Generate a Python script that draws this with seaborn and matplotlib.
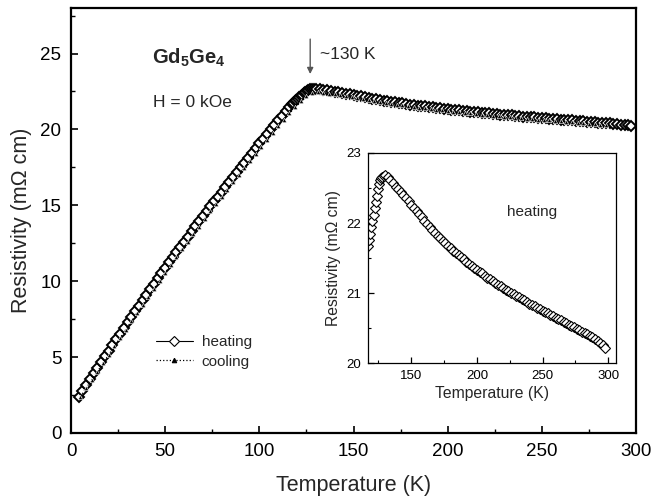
import numpy as np
import pandas as pd
import matplotlib
matplotlib.use("Agg")
import matplotlib.pyplot as plt
from matplotlib.ticker import MultipleLocator, FixedLocator
import seaborn as sns

# ---------------- data ----------------
heat_T = [4, 6, 8, 10, 12, 14, 16, 18, 20, 22, 24, 26, 28, 30, 32, 34, 36, 38, 40,
          42, 44, 46, 48, 50, 52, 54, 56, 58, 60, 62, 64, 66, 68, 70, 72, 74, 76, 78,
          80, 82, 84, 86, 88, 90, 92, 94, 96, 98, 100, 102, 104, 106, 108, 110, 112,
          114, 116,
          117.2, 118, 118.8, 119.6, 120.4, 121.2, 122, 122.8, 123.6, 124.4, 125.2,
          126, 127, 128, 129,
          130, 132, 134, 136, 138, 140, 142, 144, 146, 148, 150, 152, 154, 156, 158,
          160, 162, 164, 166, 168, 170, 172, 174, 176, 178, 180, 182, 184, 186, 188,
          190, 192, 194, 196, 198, 200, 202, 204, 206, 208, 210, 212, 214, 216, 218,
          220, 222, 224, 226, 228, 230, 232, 234, 236, 238, 240, 242, 244, 246, 248,
          250, 252, 254, 256, 258, 260, 262, 264, 266, 268, 270, 272, 274, 276, 278,
          280, 282, 284, 286, 288, 290, 292, 294, 296, 297.5]
heat_R = [2.40, 2.78, 3.16, 3.54, 3.92, 4.30, 4.68, 5.05, 5.42, 5.80, 6.18, 6.55,
          6.92, 7.29, 7.66, 8.02, 8.38, 8.74, 9.10, 9.46, 9.82, 10.18, 10.54, 10.90,
          11.24, 11.58, 11.92, 12.26, 12.60, 12.94, 13.28, 13.62, 13.96, 14.30,
          14.62, 14.94, 15.26, 15.58, 15.90, 16.22, 16.54, 16.86, 17.18, 17.50,
          17.82, 18.14, 18.46, 18.80, 19.10, 19.40, 19.70, 20.00, 20.30, 20.60,
          20.90, 21.20, 21.48,
          21.67, 21.76, 21.85, 21.94, 22.03, 22.12, 22.21, 22.30, 22.39, 22.48,
          22.56, 22.61, 22.64, 22.66, 22.67,
          22.68, 22.65, 22.61, 22.57, 22.52, 22.48, 22.44, 22.40, 22.35, 22.31,
          22.26, 22.22, 22.17, 22.13, 22.08, 22.03, 21.99, 21.94, 21.90, 21.86,
          21.82, 21.78, 21.74, 21.71, 21.67, 21.64, 21.60, 21.57, 21.54, 21.51,
          21.48, 21.45, 21.42, 21.39, 21.36, 21.33, 21.30, 21.28, 21.25, 21.22,
          21.20, 21.17, 21.15, 21.12, 21.10, 21.07, 21.05, 21.03, 21.00, 20.98,
          20.96, 20.94, 20.92, 20.90, 20.87, 20.85, 20.83, 20.81, 20.79, 20.77,
          20.75, 20.73, 20.71, 20.69, 20.67, 20.65, 20.63, 20.61, 20.59, 20.57,
          20.55, 20.53, 20.51, 20.49, 20.47, 20.45, 20.43, 20.41, 20.39, 20.37,
          20.34, 20.32, 20.29, 20.26, 20.21]

cool_T = [5, 8, 11, 14, 17, 20, 23, 26, 29, 32, 35, 38, 41, 44, 47, 50, 53, 56, 59,
          62, 65, 68, 71, 74, 77, 80, 83, 86, 89, 92, 95, 98, 101, 104, 107, 110,
          113, 116, 119, 122, 125, 128, 131, 134, 137, 140, 143, 146, 149, 152, 155,
          158, 161, 164, 167, 170, 173, 176, 179, 182, 185, 188, 191, 194, 197, 200,
          203, 206, 209, 212, 215, 218, 221, 224, 227, 230, 233, 236, 239, 242, 245,
          248, 251, 254, 257, 260, 263, 266, 269, 272, 275, 278, 281, 284]
cool_R = [2.40, 2.95, 3.50, 4.05, 4.60, 5.15, 5.70, 6.25, 6.80, 7.35, 7.90, 8.43,
          8.96, 9.49, 10.02, 10.55, 11.07, 11.58, 12.09, 12.60, 13.10, 13.60, 14.10,
          14.60, 15.08, 15.56, 16.04, 16.52, 17.00, 17.46, 17.92, 18.38, 18.84,
          19.30, 19.75, 20.20, 20.65, 21.08, 21.48, 21.88, 22.22, 22.40, 22.44,
          22.40, 22.36, 22.32, 22.30, 22.23, 22.16, 22.10, 22.03, 21.96, 21.89,
          21.82, 21.76, 21.70, 21.64, 21.59, 21.53, 21.48, 21.43, 21.39, 21.34,
          21.30, 21.26, 21.21, 21.17, 21.13, 21.09, 21.05, 21.02, 20.98, 20.94,
          20.91, 20.87, 20.84, 20.81, 20.78, 20.74, 20.71, 20.68, 20.65, 20.62,
          20.59, 20.56, 20.53, 20.50, 20.47, 20.44, 20.41, 20.38, 20.35, 20.32,
          20.29]

x_ticks = [0, 50, 100, 150, 200, 250, 300]
y_ticks = [0, 5, 10, 15, 20, 25]
inset_x_ticks = [150, 200, 250, 300]
inset_y_ticks = [20, 21, 22, 23]

# ---------------- style ----------------
sns.set_style("ticks")
plt.rcParams['font.family'] = ['Liberation Sans', 'DejaVu Sans']
plt.rcParams['mathtext.fontset'] = 'custom'
plt.rcParams['mathtext.rm'] = 'Liberation Sans'
plt.rcParams['mathtext.bf'] = 'Liberation Sans:bold'
plt.rcParams['axes.edgecolor'] = 'black'
plt.rcParams['xtick.color'] = 'black'
plt.rcParams['ytick.color'] = 'black'

heat = pd.DataFrame({'T': heat_T, 'R': heat_R})
cool = pd.DataFrame({'T': cool_T, 'R': cool_R})

fig = plt.figure(figsize=(6.52, 4.99), dpi=100)
ax = fig.add_axes([0.1089, 0.1323, 0.8666, 0.8517])

sns.lineplot(data=heat, x='T', y='R', ax=ax, color='black', lw=0.8,
             marker='D', ms=5.6, mfc='white', mec='black', mew=1.4,
             estimator=None, sort=False, label='heating', zorder=2)
sns.lineplot(data=cool, x='T', y='R', ax=ax, color='black', lw=0.9, ls=':',
             marker='^', ms=3.2, mfc='black', mec='white', mew=0.4,
             estimator=None, sort=False, label='cooling', zorder=3)

ax.set_xlim(0, 300)
ax.set_ylim(0, 28)
ax.xaxis.set_major_locator(FixedLocator(x_ticks))
ax.yaxis.set_major_locator(FixedLocator(y_ticks))
ax.xaxis.set_minor_locator(MultipleLocator(25))
ax.yaxis.set_minor_locator(MultipleLocator(2.5))
ax.tick_params(which='both', direction='in', top=False, right=False)
ax.tick_params(which='major', length=5, width=1.2, labelsize=13.5, pad=7)
ax.tick_params(which='minor', length=3, width=1.0)
for s in ax.spines.values():
    s.set_linewidth(1.6)
    s.set_visible(True)
ax.set_xlabel('Temperature (K)', fontsize=15.5, labelpad=11)
ax.set_ylabel('Resistivity (mΩ cm)', fontsize=15.5, labelpad=6)

handles, labels = ax.get_legend_handles_labels()
leg = ax.legend(handles, labels, loc='center left', frameon=False, fontsize=11,
                bbox_to_anchor=(156 / 652, 1 - 352 / 499),
                bbox_transform=fig.transFigure,
                borderpad=0, borderaxespad=0, handlelength=2.4,
                handletextpad=0.6, labelspacing=0.35, numpoints=1)
for h in leg.legend_handles:
    h.set_markeredgecolor('black')
    h.set_markeredgewidth(0.8)

ax.text(43, 24.34, r'$\mathbf{Gd_5Ge_4}$', fontsize=14.5, va='baseline', ha='left')
ax.text(43.5, 21.5, 'H = 0 kOe', fontsize=12.5, va='baseline', ha='left')
ax.text(132, 24.67, '~130 K', fontsize=12.5, va='baseline', ha='left')
ax.annotate('', xy=(127, 23.65), xytext=(127, 25.95),
            arrowprops=dict(arrowstyle='-|>', color='#555555', lw=1.0,
                            mutation_scale=9, shrinkA=0, shrinkB=0))

# ---------------- inset ----------------
ax2 = fig.add_axes([0.5644, 0.2725, 0.3804, 0.4209])
ax2.set_facecolor('white')
heat_in = heat[heat['T'] >= 117]
sns.lineplot(data=heat_in, x='T', y='R', ax=ax2, color='black', lw=0.6,
             marker='D', ms=4.6, mfc='white', mec='black', mew=0.8,
             estimator=None, sort=False, legend=False)
ax2.set_xlim(117, 306)
ax2.set_ylim(20, 23)
ax2.xaxis.set_major_locator(FixedLocator(inset_x_ticks))
ax2.yaxis.set_major_locator(FixedLocator(inset_y_ticks))
ax2.xaxis.set_minor_locator(MultipleLocator(25))
ax2.yaxis.set_minor_locator(MultipleLocator(0.5))
ax2.tick_params(which='both', direction='in', top=False, right=False)
ax2.tick_params(which='major', length=4, width=0.9, labelsize=9.5, pad=5)
ax2.tick_params(which='minor', length=2.5, width=0.8)
for s in ax2.spines.values():
    s.set_linewidth(0.9)
    s.set_visible(True)
ax2.set_xlabel('Temperature (K)', fontsize=11.3, labelpad=3)
ax2.set_ylabel('Resistivity (mΩ cm)', fontsize=11.3, labelpad=4)
ax2.text(223, 22.16, 'heating', fontsize=11, va='center', ha='left')

fig.savefig('out.png', dpi=100)
